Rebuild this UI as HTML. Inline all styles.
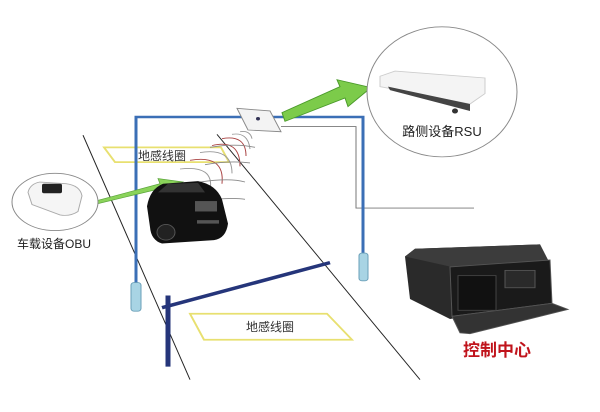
<!DOCTYPE html>
<html><head><meta charset="utf-8"><style>
html,body{margin:0;padding:0;background:#fff;width:600px;height:412px;overflow:hidden;}
svg{display:block}
text{font-family:"Liberation Sans","Noto Sans CJK SC",sans-serif;}
</style></head><body>
<svg width="600" height="412" viewBox="0 0 600 412" xmlns="http://www.w3.org/2000/svg">
<rect width="600" height="412" fill="#fff"/>
<g transform="scale(1,0.8667)">
<line x1="83" y1="156" x2="190" y2="438" stroke="#222" stroke-width="1"/>
<line x1="217" y1="155" x2="420" y2="438" stroke="#222" stroke-width="1"/>
<polygon points="104,170 221,170 229,187 115,187" fill="none" stroke="#e8e070" stroke-width="2"/>
<polygon points="190,362 327,362 352,392 204,392" fill="none" stroke="#e8e070" stroke-width="2"/>
<polyline points="281,146 356,146 356,240 474,240" fill="none" stroke="#777" stroke-width="1"/>
<polyline points="136,330 136,135 363,135 363,292" fill="none" stroke="#3b6fb6" stroke-width="3"/>
<rect x="131" y="326" width="10" height="33" rx="3" fill="#a8d4e4" stroke="#6a9fb8"/>
<rect x="359" y="292" width="9" height="32" rx="3" fill="#a8d4e4" stroke="#6a9fb8"/>
<line x1="168" y1="341" x2="168" y2="423" stroke="#25357a" stroke-width="5"/>
<line x1="162" y1="355" x2="330" y2="303" stroke="#25357a" stroke-width="4"/>
<g fill="none" stroke-width="1">
<path d="M240,152 Q250,150 252,160" stroke="#999"/>
<path d="M232,155 Q248,152 250,172" stroke="#999"/>
<path d="M222,160 Q246,155 246,180" stroke="#a44"/>
<path d="M212,168 Q240,160 240,192" stroke="#a44"/>
<path d="M200,176 Q232,170 232,200" stroke="#999"/>
<path d="M190,185 Q225,178 222,212" stroke="#a44"/>
<path d="M180,195 Q215,190 210,220" stroke="#999"/>
<path d="M200,210 Q230,205 245,210" stroke="#888"/>
<path d="M205,190 Q230,185 250,188" stroke="#888"/>
<path d="M210,170 Q235,165 255,170" stroke="#888"/>
<path d="M215,230 Q235,228 245,230" stroke="#888"/>
</g>
<polygon points="237,125 270,128 281,152 248,150" fill="#f3f3f3" stroke="#888" stroke-width="1"/>
<circle cx="258" cy="137" r="2" fill="#335"/>
<polygon points="282,130 340,100 337,92 371,101 348,123 345,113 285,140" fill="#7ccb4a" stroke="#4a9a2a" stroke-width="1"/>
<polygon points="92,233 160,212 158,206 183,210 164,222 163,217 94,236" fill="#8ad35a" stroke="#5aa33a" stroke-width="0.8"/>
<path d="M150,262 L147,238 Q150,218 163,212 L198,209 Q216,213 222,230 L228,258 Q226,275 214,277 L162,281 Q151,277 150,262Z" fill="#111"/>
<path d="M158,222 L168,212 L198,211 L205,222Z" fill="#333"/>
<rect x="195" y="232" width="22" height="12" fill="#555"/>
<circle cx="166" cy="268" r="9" fill="#222" stroke="#555"/>
<rect x="197" y="254" width="22" height="4" fill="#555"/>
<ellipse cx="55" cy="233" rx="43" ry="33" fill="#fff" stroke="#888"/>
<path d="M28,222 Q30,212 40,210 L66,212 Q80,214 82,226 L78,244 Q70,250 60,248 L32,236Z" fill="#f5f5f5" stroke="#aaa"/>
<rect x="42" y="212" width="20" height="11" rx="2" fill="#222"/>
<circle cx="442" cy="106" r="75" fill="#fff" stroke="#888"/>
<polygon points="380,88 395,82 485,90 485,108 470,120 380,100" fill="#f4f4f4" stroke="#ccc"/>
<polygon points="388,100 470,120 470,128 390,104" fill="#444"/>
<circle cx="455" cy="128" r="3" fill="#333"/>
<polygon points="405,296 415,287 540,282 548,300 548,350 450,368 410,345Z" fill="#2a2a2a"/>
<polygon points="415,287 540,282 548,300 452,308 405,296Z" fill="#3c3c3c"/>
<polygon points="450,308 550,300 552,350 452,365Z" fill="#1a1a1a" stroke="#555"/>
<polygon points="452,365 552,350 568,357 470,385 460,384Z" fill="#333" stroke="#555"/>
<rect x="458" y="318" width="38" height="40" fill="#111" stroke="#444"/>
<rect x="505" y="312" width="30" height="20" fill="#2a2a2a" stroke="#555"/>
</g>
<text x="162" y="160" font-size="12" text-anchor="middle" fill="#333">地感线圈</text>
<text x="270" y="331" font-size="12" text-anchor="middle" fill="#333">地感线圈</text>
<text x="54" y="248" font-size="12" text-anchor="middle" fill="#222">车载设备OBU</text>
<text x="442" y="136" font-size="13" text-anchor="middle" fill="#222">路侧设备RSU</text>
<text x="497" y="356" font-size="17" font-weight="bold" text-anchor="middle" fill="#c0141c">控制中心</text>
</svg>
</body></html>
